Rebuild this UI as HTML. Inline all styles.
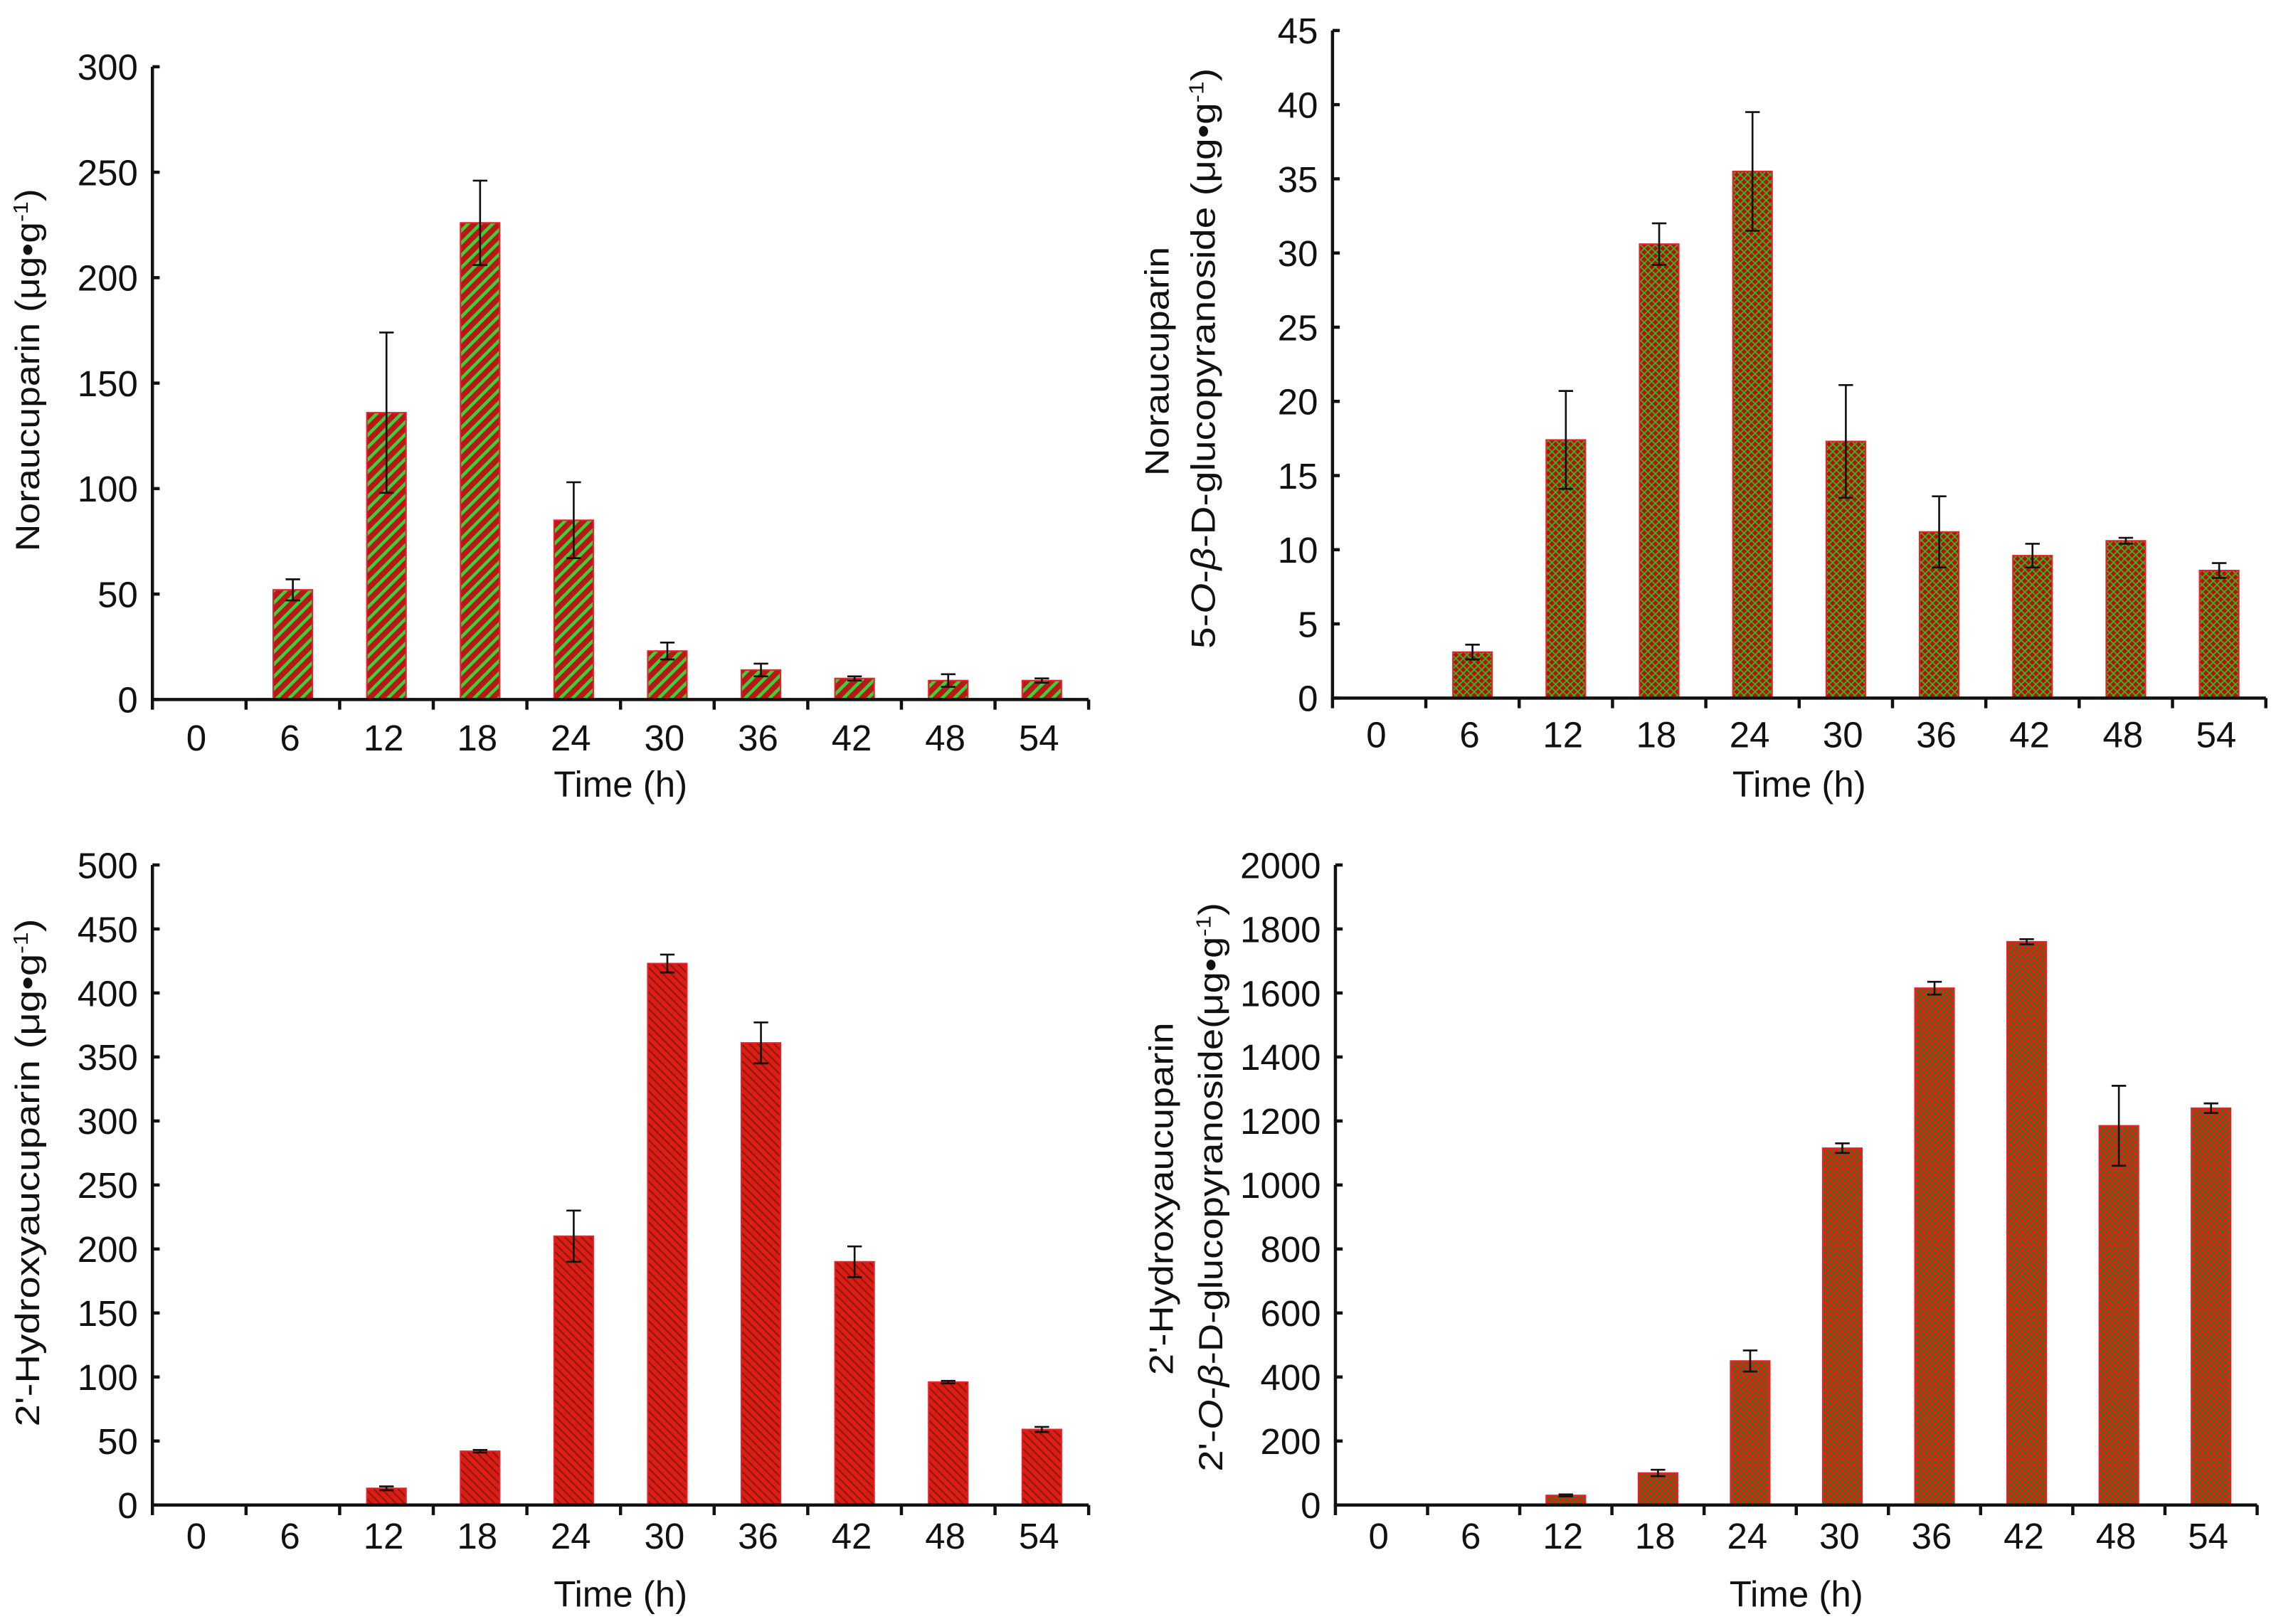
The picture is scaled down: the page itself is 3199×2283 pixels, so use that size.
<!DOCTYPE html>
<html><head><meta charset="utf-8"><style>
html,body{margin:0;padding:0;background:#fff;}
svg{display:block;}
.tk{font-family:"Liberation Sans Narrow","Liberation Sans",sans-serif;font-size:25px;fill:#111;}
.tt{font-family:"Liberation Sans Narrow","Liberation Sans",sans-serif;font-size:23px;fill:#111;}
</style></head><body>
<svg id="chart" width="3199" height="2283" viewBox="0 0 1568 1119" preserveAspectRatio="none" xmlns="http://www.w3.org/2000/svg">
<defs>
<pattern id="p1" width="6" height="6" patternUnits="userSpaceOnUse" patternTransform="rotate(45)">
<rect width="6" height="6" fill="#b81818"/><rect width="2.2" height="6" fill="#3ad23a"/></pattern>
<pattern id="p2" width="3.6" height="3.6" patternUnits="userSpaceOnUse" patternTransform="rotate(45)">
<rect width="3.6" height="3.6" fill="#c40a06"/><rect width="0.9" height="3.6" fill="#22c022"/><rect width="3.6" height="0.9" fill="#22c022"/></pattern>
<pattern id="p3" width="4" height="4" patternUnits="userSpaceOnUse" patternTransform="rotate(-45)">
<rect width="4" height="4" fill="#e21a14"/><rect width="1" height="4" fill="#7a2010"/></pattern>
<pattern id="p4" width="4" height="4" patternUnits="userSpaceOnUse">
<rect width="4" height="4" fill="#2e7a28"/><rect width="2.2" height="2.2" fill="#ff1208"/><rect x="2" y="2" width="2.2" height="2.2" fill="#ff1208"/></pattern>
</defs>
<g id="root"></g>
</svg>
<script>
const categories = [0, 6, 12, 18, 24, 30, 36, 42, 48, 54];
const valuesA = [0, 52, 136, 226, 85, 23, 14, 10, 9, 9];
const errorsA = [0, 5, 38, 20, 18, 4, 3, 1, 3, 1];
const ticksA = [0, 50, 100, 150, 200, 250, 300];
const valuesB = [0, 3.1, 17.4, 30.6, 35.5, 17.3, 11.2, 9.6, 10.6, 8.6];
const errorsB = [0, 0.5, 3.3, 1.4, 4.0, 3.8, 2.4, 0.8, 0.2, 0.5];
const ticksB = [0, 5, 10, 15, 20, 25, 30, 35, 40, 45];
const valuesC = [0, 0, 13, 42, 210, 423, 361, 190, 96, 59];
const errorsC = [0, 0, 1.5, 1, 20, 7, 16, 12, 1, 2];
const ticksC = [0, 50, 100, 150, 200, 250, 300, 350, 400, 450, 500];
const valuesD = [0, 0, 30, 100, 450, 1115, 1615, 1760, 1185, 1240];
const errorsD = [0, 0, 3, 10, 33, 15, 20, 8, 125, 15];
const ticksD = [0, 200, 400, 600, 800, 1000, 1200, 1400, 1600, 1800, 2000];

const NS = "http://www.w3.org/2000/svg";
const root = document.getElementById('root');
function mk(tag, attrs, parent, text) {
  const e = document.createElementNS(NS, tag);
  for (const k in attrs) e.setAttribute(k, attrs[k]);
  if (text !== undefined) e.textContent = text;
  parent.appendChild(e);
  return e;
}
function panel(id, cfg, values, errors, ticks) {
  const g = mk('g', {}, root);
  
  
  const x0 = cfg.x0, x1 = cfg.x1, yTop = cfg.yTop, yZero = cfg.yZero;
  const maxV = ticks[ticks.length - 1];
  const yS = v => yZero - (v / maxV) * (yZero - yTop);
  const step = (x1 - x0) / categories.length;
  const xS = i => x0 + step * (i + 0.5);
  values.forEach((v, i) => {
    if (v <= 0) return;
    const bw = 27;
    const r = mk('rect', {x: xS(i) - bw / 2, y: yS(v), width: bw, height: yZero - yS(v), fill: 'url(#' + cfg.pat + ')', stroke: '#e8202a', 'stroke-width': 1}, g);
    
    
    const e = errors[i];
    if (e > 0) {
      const eg = mk('g', {stroke: '#111', 'stroke-width': 1.3}, g);
      
      
      const cx = xS(i);
      mk('line', {x1: cx, x2: cx, y1: yS(v + e), y2: yS(Math.max(0, v - e))}, eg);
      mk('line', {x1: cx - 5, x2: cx + 5, y1: yS(v + e), y2: yS(v + e)}, eg);
      mk('line', {x1: cx - 5, x2: cx + 5, y1: yS(Math.max(0, v - e)), y2: yS(Math.max(0, v - e))}, eg);
    }
  });
  const ax = mk('g', {stroke: '#111', 'stroke-width': 2.2}, g);
  
  
  mk('line', {x1: x0, x2: x0, y1: yTop, y2: yZero + 1}, ax);
  mk('line', {x1: x0 - 1, x2: x1, y1: yZero, y2: yZero}, ax);
  ticks.forEach(t => {
    mk('line', {x1: x0, x2: x0 + 5, y1: yS(t), y2: yS(t)}, ax);
    const tl = mk('text', {x: x0 - 10, y: yS(t) + 9, 'text-anchor': 'end', class: 'tk'}, g, String(t));
    
    
  });
  for (let i = 0; i <= categories.length; i++) {
    mk('line', {x1: x0 + step * i, x2: x0 + step * i, y1: yZero, y2: yZero + 7}, ax);
  }
  categories.forEach((c, i) => {
    const tl = mk('text', {x: xS(i) - 2, y: cfg.tickY, 'text-anchor': 'middle', class: 'tk'}, g, String(c));
    
    
  });
  const xt = mk('text', {x: (x0 + x1) / 2, y: cfg.titleY, 'text-anchor': 'middle', class: 'tk'}, g, 'Time (h)');
  
  
  const yt = mk('g', {}, g);
  
  
  cfg.ylab(yt);
}
function vtext(parent, x, y, len, html) {
  const t = mk('text', {x: 0, y: 0, 'text-anchor': 'middle', class: 'tt', textLength: len, lengthAdjust: 'spacingAndGlyphs', transform: 'translate(' + x + ',' + y + ') rotate(-90)'}, parent);
  t.innerHTML = html;
}
const SUP = '(μg•g<tspan dy="-8" font-size="14">-1</tspan><tspan dy="8">)</tspan>';
panel('noraucuparin', {x0: 105, x1: 750, yTop: 46, yZero: 482, pat: 'p1', tickY: 517, titleY: 549,
  ylab: g => vtext(g, 27, 255, 250, 'Noraucuparin ' + SUP)},
  valuesA, errorsA, ticksA);
panel('noraucuparin-glucoside', {x0: 918, x1: 1561, yTop: 21, yZero: 481, pat: 'p2', tickY: 515, titleY: 549,
  ylab: g => { vtext(g, 805, 249, 158, 'Noraucuparin');
    vtext(g, 837, 247, 400, '5-<tspan font-style="italic">O</tspan>-<tspan font-style="italic">β</tspan>-D-glucopyranoside  ' + SUP); }},
  valuesB, errorsB, ticksB);
panel('hydroxyaucuparin', {x0: 105, x1: 750, yTop: 596, yZero: 1037, pat: 'p3', tickY: 1067, titleY: 1107,
  ylab: g => vtext(g, 27, 808, 350, '2\'-Hydroxyaucuparin ' + SUP)},
  valuesC, errorsC, ticksC);
panel('hydroxyaucuparin-glucoside', {x0: 920, x1: 1555, yTop: 596, yZero: 1037, pat: 'p4', tickY: 1067, titleY: 1107,
  ylab: g => { vtext(g, 808, 826, 243, '2\'-Hydroxyaucuparin');
    vtext(g, 842, 818, 392, '2\'-<tspan font-style="italic">O</tspan>-<tspan font-style="italic">β</tspan>-D-glucopyranoside' + SUP); }},
  valuesD, errorsD, ticksD);
</script>
</body></html>
